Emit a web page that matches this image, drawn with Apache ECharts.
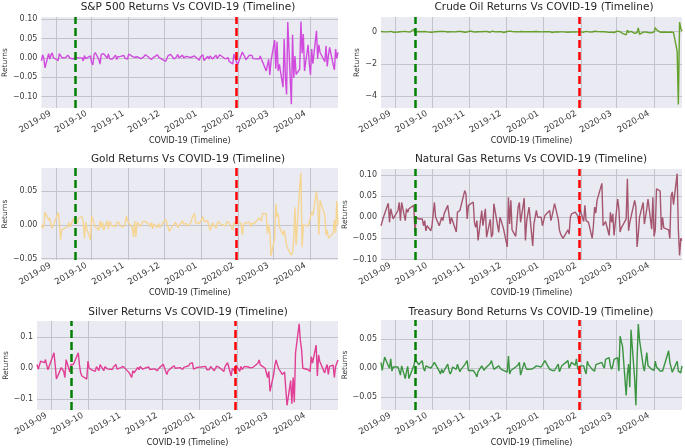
<!DOCTYPE html>
<html><head><meta charset="utf-8">
<script src="https://cdn.jsdelivr.net/npm/echarts@6/dist/echarts.min.js"></script>
<style>html,body{margin:0;padding:0;background:#fff}#c{width:685px;height:448px}</style>
</head><body><div id="c"></div>
<script>
// ---------- data ----------
const startDate = '2019-08-20';
const endDate = '2020-04-24';
const holidays = ['2019-09-02','2019-11-28','2019-12-25','2020-01-01','2020-01-20','2020-02-17','2020-04-10'];
const eventDates = ['2019-09-17','2020-01-30'];
const titles = [
  'S&P 500 Returns Vs COVID-19 (Timeline)',
  'Crude Oil Returns Vs COVID-19 (Timeline)',
  'Gold Returns Vs COVID-19 (Timeline)',
  'Natural Gas Returns Vs COVID-19 (Timeline)',
  'Silver Returns Vs COVID-19 (Timeline)',
  'Treasury Bond Returns Vs COVID-19 (Timeline)'
];
const xName = 'COVID-19 (Timeline)';
const yName = 'Returns';

const sp = [
 -0.008,0.008,-0.001,-0.026,0.011,-0.003,0.007,0.013,0.001,
 -0.007,0.011,0.013,0.001,0.000,0.000,0.007,0.003,-0.001,-0.003,0.003,0.000,0.000,-0.005,0.000,-0.008,0.006,-0.002,-0.005,0.005,
 -0.012,-0.018,0.008,0.014,-0.004,-0.016,0.009,0.006,0.011,-0.001,0.010,-0.002,0.003,-0.004,0.007,-0.004,0.003,0.002,0.004,0.006,-0.001,0.003,-0.003,
 0.010,0.004,-0.001,0.001,0.003,0.003,-0.002,0.002,0.001,0.001,0.008,0.001,-0.001,-0.004,-0.002,0.002,0.008,0.002,0.004,-0.004,
 -0.009,-0.007,0.006,0.002,0.009,-0.003,-0.001,0.003,0.009,0.000,0.007,0.000,0.000,0.004,0.005,0.001,0.000,0.005,0.000,-0.006,0.003,
 0.008,-0.007,0.004,-0.003,0.005,0.007,-0.003,0.007,-0.002,0.002,0.008,0.004,-0.003,0.000,0.001,-0.009,-0.016,0.010,-0.001,0.003,-0.018,
 0.007,0.015,0.011,0.003,-0.005,0.007,0.002,0.006,-0.002,0.002,-0.003,0.005,-0.004,-0.011,-0.034,-0.030,-0.004,-0.044,-0.008,
 0.046,-0.028,0.042,-0.034,-0.017,-0.076,0.049,-0.049,-0.095,0.093,-0.120,0.060,-0.052,0.005,-0.043,-0.029,0.094,0.012,0.062,-0.034,0.034,-0.016,
 -0.044,0.023,-0.015,0.070,-0.002,0.034,0.014,-0.010,0.031,-0.022,0.006,0.027,-0.018,-0.031,0.023,-0.001,0.014
];
const crude = [
 0.01,-0.01,0.00,-0.02,-0.01,0.02,0.02,-0.01,-0.03,
 -0.02,0.04,0.00,0.01,0.02,0.00,-0.01,0.00,-0.02,0.15,-0.06,-0.02,0.01,0.01,0.00,-0.02,0.01,-0.01,-0.01,-0.03,
 -0.02,-0.02,0.00,0.00,0.01,-0.02,0.01,0.02,0.02,-0.02,-0.02,0.00,0.01,-0.01,0.00,0.02,0.02,0.01,0.01,-0.03,0.00,-0.02,-0.02,
 0.04,0.00,0.01,-0.02,0.01,0.00,0.00,0.00,0.01,-0.01,0.01,-0.03,-0.03,0.03,0.01,-0.01,0.00,-0.01,0.00,-0.05,
 0.01,0.00,0.04,0.01,0.01,0.00,-0.01,-0.01,0.01,0.01,0.00,0.01,0.00,0.01,0.00,0.00,0.01,0.01,0.00,-0.01,0.00,
 0.00,0.03,0.00,-0.01,-0.05,0.00,-0.01,-0.02,0.00,-0.01,0.01,-0.01,-0.03,-0.03,-0.02,-0.02,-0.02,0.00,-0.01,-0.02,-0.01,
 -0.03,-0.01,0.02,0.00,-0.01,-0.02,0.01,0.03,0.00,0.01,0.00,0.02,0.00,-0.01,-0.04,-0.02,-0.03,-0.03,-0.05,
 0.04,-0.02,0.00,-0.05,-0.10,-0.20,0.10,-0.04,-0.05,0.02,-0.10,-0.06,-0.05,0.24,-0.17,-0.03,0.02,-0.01,-0.08,-0.05,-0.07,0.02,
 -0.01,0.25,0.12,-0.03,-0.05,-0.02,0.01,-0.03,-0.08,-0.02,-0.01,-0.05,-1.20,-4.50,0.60,0.20,0.03
];
const gold = [
 0.000,-0.005,-0.002,0.019,0.007,0.010,0.000,-0.005,-0.006,
 0.018,0.005,-0.022,-0.008,-0.004,-0.006,-0.003,0.004,-0.003,0.010,0.002,0.006,0.002,0.010,0.012,0.004,-0.020,0.004,-0.006,-0.022,
 0.013,0.008,0.002,-0.003,-0.008,0.006,-0.004,0.004,-0.008,0.006,-0.006,0.005,0.002,-0.001,-0.003,0.004,0.006,0.003,-0.002,-0.003,0.002,0.013,0.006,
 0.004,-0.005,-0.018,0.006,-0.018,0.004,-0.002,0.002,0.005,0.003,0.005,0.001,-0.003,0.004,-0.006,0.001,-0.004,0.002,-0.004,0.001,
 0.008,0.010,-0.004,-0.010,-0.006,0.001,0.004,0.005,-0.004,-0.006,0.006,0.001,0.000,0.002,-0.002,0.003,0.010,0.017,0.003,0.002,0.005,
 0.012,0.005,0.006,-0.001,-0.008,-0.004,0.003,-0.005,0.002,0.005,0.003,0.001,-0.002,0.005,0.005,0.003,-0.008,0.004,0.003,0.000,0.006,
 0.002,-0.015,0.001,0.003,0.003,0.004,-0.003,0.002,0.004,0.002,0.010,0.010,0.006,0.017,0.016,-0.013,0.000,-0.010,-0.046,
 -0.020,0.031,0.012,0.016,-0.003,-0.015,-0.008,-0.008,-0.030,-0.035,-0.045,-0.040,-0.022,0.026,-0.030,0.058,0.077,-0.033,0.000,0.002,-0.002,0.004,
 0.004,0.019,0.014,0.049,0.034,-0.015,0.036,0.014,-0.015,-0.008,-0.020,-0.020,-0.012,0.007,-0.012,0.035,0.000
];
const gas = [
 -0.020,-0.010,0.000,0.004,0.033,-0.012,0.020,0.016,-0.004,
 0.016,0.035,-0.008,0.035,-0.008,0.020,0.012,0.020,0.024,0.028,-0.035,0.000,0.000,-0.004,-0.004,-0.020,-0.008,-0.032,-0.020,-0.032,
 -0.020,-0.020,0.035,0.000,-0.020,-0.020,0.000,-0.008,0.008,0.028,0.024,-0.016,0.000,0.000,-0.035,0.012,0.008,0.016,0.020,0.063,0.055,-0.004,0.028,
 0.030,0.036,-0.012,-0.024,-0.008,-0.055,0.016,-0.020,-0.020,0.020,-0.047,-0.005,-0.047,-0.040,0.032,0.035,-0.036,0.000,-0.008,-0.028,
 -0.070,0.047,-0.016,0.040,-0.030,-0.045,-0.045,0.024,0.035,-0.012,0.045,-0.055,-0.010,0.008,0.024,-0.068,-0.016,0.016,0.000,0.000,-0.020,
 0.004,0.004,0.016,-0.008,0.004,0.008,0.032,-0.004,-0.030,-0.040,-0.045,-0.050,-0.030,-0.040,0.000,0.008,0.012,0.012,0.004,-0.012,0.018,
 -0.010,0.028,-0.008,-0.005,-0.012,-0.050,-0.020,0.024,0.010,0.040,0.080,-0.020,-0.015,-0.010,-0.043,0.012,-0.012,0.008,-0.043,
 0.043,0.020,-0.035,-0.025,-0.020,-0.004,0.091,-0.032,-0.012,-0.012,0.040,0.024,-0.070,-0.040,0.000,0.035,-0.016,-0.012,0.020,0.043,-0.028,0.047,
 -0.045,-0.030,0.067,0.062,-0.030,0.000,-0.025,-0.030,-0.050,0.050,0.060,0.030,0.103,-0.030,-0.090,-0.050,-0.055
];
const silver = [
 0.012,-0.003,0.000,0.023,0.018,0.028,0.010,-0.005,0.000,
 0.050,0.010,-0.035,-0.035,0.002,0.005,-0.010,-0.030,0.028,-0.012,0.012,0.012,0.012,0.018,0.050,0.010,-0.015,-0.025,-0.020,-0.035,
 0.023,0.000,0.002,-0.005,-0.010,0.005,0.000,-0.008,0.012,-0.008,0.005,0.002,-0.002,0.000,-0.004,0.004,0.010,0.012,-0.003,0.002,-0.004,0.006,0.008,
 -0.002,-0.015,-0.020,-0.030,-0.008,-0.015,0.003,-0.005,0.006,0.004,-0.003,0.002,-0.004,0.004,-0.004,-0.004,-0.002,0.004,-0.008,0.002,
 0.013,0.010,-0.010,-0.020,-0.008,0.002,0.006,0.008,0.000,-0.003,0.002,0.005,-0.004,0.003,0.000,0.008,0.015,0.018,-0.003,0.003,0.003,
 0.004,0.010,0.006,-0.005,-0.010,-0.004,0.006,-0.008,-0.004,0.007,0.004,0.003,-0.010,0.006,0.005,0.018,-0.025,0.000,0.000,-0.010,0.010,
 -0.010,0.006,-0.004,0.000,0.006,0.004,0.010,0.001,0.006,0.003,0.016,0.027,0.011,0.006,0.000,0.006,-0.030,-0.010,-0.075,
 -0.020,0.010,0.027,0.012,0.000,-0.020,-0.023,-0.012,-0.068,-0.120,-0.040,-0.115,-0.030,-0.110,0.050,0.144,0.090,0.060,0.000,0.005,-0.004,-0.010,
 -0.010,0.038,0.017,0.075,-0.025,0.043,0.022,-0.015,0.000,0.012,-0.020,0.006,0.010,-0.030,0.006,0.006,0.027
];
const bond = [
 0.010,-0.004,-0.004,0.019,0.004,0.000,0.016,-0.005,0.002,
 0.002,0.004,-0.012,0.004,-0.018,-0.006,0.003,-0.018,-0.021,0.004,0.013,0.010,0.010,0.006,0.013,0.000,-0.005,0.004,0.002,0.000,
 0.002,0.006,0.010,0.010,-0.005,-0.010,-0.002,-0.008,-0.010,0.007,-0.004,-0.010,-0.006,0.002,-0.002,0.007,0.000,-0.006,-0.002,0.006,0.006,0.013,-0.004,
 -0.002,-0.004,-0.006,-0.010,-0.015,-0.006,0.004,0.002,-0.004,0.000,0.002,0.008,0.013,0.010,-0.002,-0.004,0.004,0.003,-0.002,-0.004,
 -0.007,0.021,-0.010,-0.004,-0.004,0.002,0.004,0.006,0.010,-0.012,0.010,0.003,-0.002,-0.004,-0.002,-0.001,0.002,0.004,0.004,0.002,0.001,
 0.013,0.010,-0.002,-0.004,-0.004,-0.005,-0.004,0.007,-0.006,-0.007,0.004,0.007,0.013,0.000,-0.002,0.010,0.005,0.016,0.000,-0.004,0.004,
 0.004,-0.004,-0.010,0.012,0.006,-0.002,-0.004,-0.005,0.006,0.006,0.010,0.004,0.000,0.015,0.018,0.004,-0.002,0.004,0.015,
 0.018,-0.005,0.055,0.046,0.038,-0.047,-0.010,0.007,-0.033,0.066,-0.019,-0.064,0.015,0.076,0.049,0.004,-0.005,-0.002,0.027,0.004,-0.002,-0.002,
 -0.004,0.012,0.002,-0.005,-0.002,-0.005,-0.004,0.030,0.010,0.007,-0.007,-0.007,0.012,-0.005,-0.006,-0.008,0.004
];

// ---------- trading dates ----------
function ymd(d){return d.getUTCFullYear()+'-'+String(d.getUTCMonth()+1).padStart(2,'0')+'-'+String(d.getUTCDate()).padStart(2,'0');}
const dates = [];
for (let t = Date.parse(startDate+'T00:00:00Z'); t <= Date.parse(endDate+'T00:00:00Z'); t += 864e5) {
  const d = new Date(t), wd = d.getUTCDay(), s = ymd(d);
  if (wd === 0 || wd === 6 || holidays.includes(s)) continue;
  dates.push(s);
}

// ---------- layout / style ----------
const seriesData = [sp, crude, gold, gas, silver, bond];
const colors = ['#d04ade','#64a02a','#f6d592','#a5566f','#e03f95','#3a9440'];
const eventColors = ['#008000','#ff0000'];
const yRange = [[-0.13,0.106],[-4.72,0.91],[-0.052,0.084],[-0.101,0.114],[-0.135,0.153],[-0.072,0.083]];
const ySplit = [5,3,3,5,3,3];
const yDec = [2,0,2,2,1,2];
const gl = [37,381,37,381,37,381];
const gt = [17,17,168,169,321,320];
const gh = [91,91,92,91,90,91];
const yNameGap = [28,17,28,27,24,27];
const titleX = [188,544,188,531,188,531];
const titleTop = [2,2,154,154,307,307];
const gridColor = '#c3c3cb';
const FONT = 'DejaVu Sans';

function fmtY(dec){return v => (v<0?'\u2212':'') + Math.abs(v).toFixed(dec);}
function fmtX(v){const d=new Date(v);return d.getFullYear()+'-'+String(d.getMonth()+1).padStart(2,'0');}

const option = {
  animation:false,
  textStyle:{fontFamily:FONT},
  title: titles.map((t,i)=>({text:t, left: titleX[i], top:titleTop[i], textAlign:'center', padding:0,
     textStyle:{fontSize:10.5, fontWeight:'normal', color:'#262626', fontFamily:FONT}})),
  grid: seriesData.map((s,i)=>({left:gl[i], top:gt[i], width:301, height:gh[i], show:true,
     backgroundColor:'#EAEAF2', borderWidth:0})),
  xAxis: seriesData.map((s,i)=>({type:'time', gridIndex:i, min:dates[0], max:dates[dates.length-1],
     minInterval:28*864e5, maxInterval:31*864e5,
     axisLine:{show:false}, axisTick:{show:false},
     splitLine:{show:true, showMinLine:false, showMaxLine:false, lineStyle:{color:gridColor, width:1}},
     axisLabel:{rotate:30, fontSize:8.5, color:'#3a3a3a', margin:2, padding:[0,6,0,0], formatter:fmtX, showMinLabel:false, showMaxLabel:false, hideOverlap:false, fontFamily:FONT},
     name:xName, nameLocation:'middle', nameGap:25, nameTextStyle:{fontSize:8, color:'#262626', fontFamily:FONT}})),
  yAxis: seriesData.map((s,i)=>({type:'value', gridIndex:i, min:yRange[i][0], max:yRange[i][1], splitNumber:ySplit[i],
     axisLine:{show:false}, axisTick:{show:false},
     splitLine:{show:true, showMinLine:false, showMaxLine:false, lineStyle:{color:gridColor, width:1}},
     axisLabel:{fontSize:8, color:'#3a3a3a', margin:4, formatter:fmtY(yDec[i]), showMinLabel:false, showMaxLabel:false, fontFamily:FONT},
     name:yName, nameLocation:'middle', nameGap:yNameGap[i], nameTextStyle:{fontSize:7.5, color:'#333', fontFamily:FONT}})),
  series: seriesData.map((arr,i)=>({type:'line', xAxisIndex:i, yAxisIndex:i,
     data: dates.map((d,j)=>[d, arr[j]]), showSymbol:false, symbol:'none', silent:true,
     lineStyle:{width:1.4, color:colors[i]}, itemStyle:{color:colors[i]},
     markLine:{symbol:['none','none'], silent:true, label:{show:false}, animation:false,
       data: eventDates.map((d,k)=>({xAxis:d, lineStyle:{color:eventColors[k], type:[8,4], width:2.5}}))}}))
};
const chart = echarts.init(document.getElementById('c'), null, {renderer:'canvas'});
chart.setOption(option);
</script></body></html>
